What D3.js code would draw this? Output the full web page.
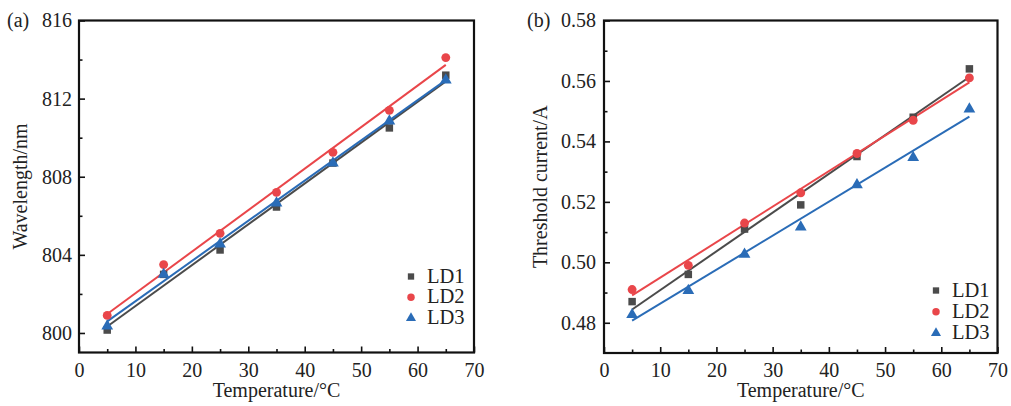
<!DOCTYPE html>
<html>
<head>
<meta charset="utf-8">
<script src="https://cdn.jsdelivr.net/npm/d3@7"></script>
<style>
  body { margin: 0; background: #fff; }
  text { font-family: "Liberation Serif", "Times New Roman", serif; fill: #222; }
</style>
</head>
<body>
<div id="chart"></div>
<script>
// data
const temperatures = [5, 15, 25, 35, 45, 55, 65];
const seriesNames = ["LD1", "LD2", "LD3"];

const wavelengthLD1 = [800.15, 803.0, 804.25, 806.45, 808.7, 810.5, 813.2];
const wavelengthLD2 = [800.9, 803.5, 805.1, 807.2, 809.25, 811.4, 814.1];
const wavelengthLD3 = [800.4, 803.05, 804.6, 806.7, 808.75, 810.9, 813.0];

const thresholdLD1 = [0.487, 0.496, 0.511, 0.519, 0.535, 0.548, 0.564];
const thresholdLD2 = [0.491, 0.499, 0.513, 0.523, 0.536, 0.547, 0.561];
const thresholdLD3 = [0.483, 0.491, 0.503, 0.512, 0.526, 0.535, 0.551];

const xTicks = [0, 10, 20, 30, 40, 50, 60, 70];
const wavelengthTicks = [800, 804, 808, 812, 816];
const thresholdTicks = [0.48, 0.50, 0.52, 0.54, 0.56, 0.58];

const colors = {LD1: "#4b4b4b", LD2: "#e9464a", LD3: "#2a6cb7"};
const symbols = {LD1: d3.symbolSquare, LD2: d3.symbolCircle, LD3: d3.symbolTriangle};

const svg = d3.select("#chart").append("svg")
    .attr("width", 1011)
    .attr("height", 406);

// least squares line through the points
function linearFit(xs, ys) {
  const mx = d3.mean(xs), my = d3.mean(ys);
  const sxy = d3.sum(xs, (x, i) => (x - mx) * (ys[i] - my));
  const sxx = d3.sum(xs, x => (x - mx) * (x - mx));
  const k = sxy / sxx;
  return x => my + k * (x - mx);
}

function drawPanel(cfg) {
  const g = svg.append("g");
  const x = d3.scaleLinear().domain([0, 70]).range([cfg.left, cfg.right]);
  const y = d3.scaleLinear().domain(cfg.yDomain).range([cfg.bottom, cfg.top]);

  // minor ticks
  const xMinor = d3.range(5, 70, 10);
  g.append("g")
    .attr("transform", `translate(0, ${cfg.bottom})`)
    .call(d3.axisBottom(x).tickValues(xMinor).tickSize(-3.5).tickFormat(""))
    .call(a => a.select(".domain").remove())
    .selectAll("line").attr("stroke", "#111").attr("stroke-width", 1.6);
  g.append("g")
    .attr("transform", `translate(${cfg.left}, 0)`)
    .call(d3.axisLeft(y).tickValues(cfg.yMinor).tickSize(-3.5).tickFormat(""))
    .call(a => a.select(".domain").remove())
    .selectAll("line").attr("stroke", "#111").attr("stroke-width", 1.6);

  // major ticks
  const xAxis = g.append("g")
    .attr("transform", `translate(0, ${cfg.bottom})`)
    .call(d3.axisBottom(x).tickValues(xTicks).tickSize(-6).tickPadding(10));
  xAxis.select(".domain").remove();
  xAxis.selectAll("line").attr("stroke", "#111").attr("stroke-width", 1.6);
  xAxis.selectAll("text").attr("font-size", 20).attr("fill", "#222");

  const yAxis = g.append("g")
    .attr("transform", `translate(${cfg.left}, 0)`)
    .call(d3.axisLeft(y).tickValues(cfg.yTicks).tickSize(-6).tickPadding(cfg.yPad)
      .tickFormat(cfg.yFormat));
  yAxis.select(".domain").remove();
  yAxis.selectAll("line").attr("stroke", "#111").attr("stroke-width", 1.6);
  yAxis.selectAll("text").attr("font-size", 20).attr("fill", "#222");

  // frame
  g.append("rect")
    .attr("x", cfg.left).attr("y", cfg.top)
    .attr("width", cfg.right - cfg.left).attr("height", cfg.bottom - cfg.top)
    .attr("fill", "none").attr("stroke", "#111").attr("stroke-width", 2.2);

  // fit lines then points
  cfg.series.forEach((vals, i) => {
    const name = seriesNames[i];
    const f = linearFit(temperatures, vals);
    g.append("line")
      .attr("x1", x(5)).attr("y1", y(f(5)))
      .attr("x2", x(65)).attr("y2", y(f(65)))
      .attr("stroke", colors[name]).attr("stroke-width", 2);
  });
  cfg.series.forEach((vals, i) => {
    const name = seriesNames[i];
    const size = name === "LD3" ? 60 : (name === "LD2" ? 62 : 56);
    g.selectAll(null)
      .data(vals)
      .join("path")
        .attr("transform", (d, j) => `translate(${x(temperatures[j])}, ${y(d) + (name === "LD3" ? 1 : 0)})`)
        .attr("d", d3.symbol().type(symbols[name]).size(size))
        .attr("fill", colors[name]);
  });

  // legend
  seriesNames.forEach((name, i) => {
    const ly = cfg.legendY + i * cfg.legendStep;
    g.append("path")
      .attr("transform", `translate(${cfg.legendX}, ${ly})`)
      .attr("d", d3.symbol().type(symbols[name]).size(name === "LD1" ? 40 : 44))
      .attr("fill", colors[name]);
    g.append("text")
      .attr("x", cfg.legendX + 16).attr("y", ly + 6)
      .attr("font-size", 20.5)
      .text(name);
  });

  // titles
  g.append("text")
    .attr("x", (cfg.left + cfg.right) / 2).attr("y", 397)
    .attr("text-anchor", "middle")
    .attr("font-size", 20)
    .text("Temperature/°C");
  g.append("text")
    .attr("transform", `translate(${cfg.yTitleX}, ${(cfg.top + cfg.bottom) / 2}) rotate(-90)`)
    .attr("text-anchor", "middle")
    .attr("font-size", 20)
    .text(cfg.yTitle);
  g.append("text")
    .attr("x", cfg.tagX).attr("y", 27)
    .attr("font-size", 20)
    .text(cfg.tag);
}

drawPanel({
  left: 79, right: 474, top: 20.5, bottom: 352.5,
  yDomain: [799, 816], yTicks: wavelengthTicks,
  yMinor: [802, 806, 810, 814], yFormat: d3.format("d"), yPad: 7,
  series: [wavelengthLD1, wavelengthLD2, wavelengthLD3],
  legendX: 411, legendY: 276.5, legendStep: 20.8,
  yTitle: "Wavelength/nm", yTitleX: 27,
  tag: "(a)", tagX: 7
});

drawPanel({
  left: 604, right: 997.5, top: 20.5, bottom: 353,
  yDomain: [0.47, 0.58], yTicks: thresholdTicks,
  yMinor: [0.49, 0.51, 0.53, 0.55, 0.57], yFormat: d3.format(".2f"), yPad: 8,
  series: [thresholdLD1, thresholdLD2, thresholdLD3],
  legendX: 936, legendY: 290.5, legendStep: 21.3,
  yTitle: "Threshold current/A", yTitleX: 547,
  tag: "(b)", tagX: 527
});
</script>
</body>
</html>
